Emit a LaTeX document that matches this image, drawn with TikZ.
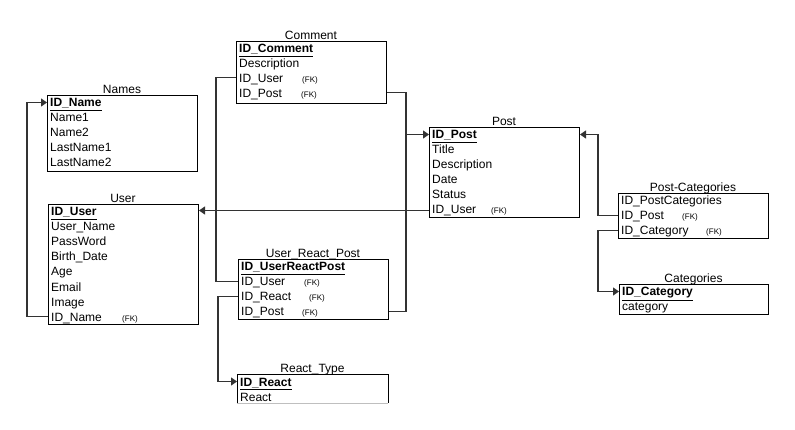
\documentclass[tikz,border=0pt]{standalone}
\usepackage{fontspec}
\setmainfont{Liberation Sans}
\usetikzlibrary{arrows.meta}
\begin{document}
\begin{tikzpicture}[x=1pt,y=-1pt,
  tbl/.style={draw=black, line width=1pt, minimum width=150pt, inner sep=0pt, anchor=north west},
  ttl/.style={font=\fontsize{12}{14}\selectfont, anchor=base, inner sep=0pt},
  fld/.style={font=\fontsize{12}{14}\selectfont, anchor=base west, inner sep=0pt},
  fk/.style={font=\fontsize{8}{9}\selectfont, anchor=base west, inner sep=0pt},
  link/.style={draw=black!80, line width=1.1pt},
  tip/.style={-{Triangle[length=6pt,width=8pt]}}
]
\useasboundingbox (0,0) rectangle (795,430);
\fill[white] (0,0) rectangle (795,430);

% ---------- Names ----------
\node[tbl, minimum height=76pt] (names) at (47,95) {};
\node[ttl] (names-t) at (122,93.5) {Names};
\node[fld] (names-0) at (50,107) {\underline{\textbf{ID\_Name}}};
\node[fld] (names-1) at (50,122) {Name1};
\node[fld] (names-2) at (50,137) {Name2};
\node[fld] (names-3) at (50,152) {LastName1};
\node[fld] (names-4) at (50,167) {LastName2};

% ---------- User ----------
\node[tbl, minimum height=120pt] (user) at (48,204) {};
\node[ttl] (user-t) at (123,202.5) {User};
\node[fld] (user-0) at (51,216) {\underline{\textbf{ID\_User}}};
\node[fld] (user-1) at (51,231) {User\_Name};
\node[fld] (user-2) at (51,246) {PassWord};
\node[fld] (user-3) at (51,261) {Birth\_Date};
\node[fld] (user-4) at (51,276) {Age};
\node[fld] (user-5) at (51,291) {Email};
\node[fld] (user-6) at (51,306) {Image};
\node[fld] (user-7) at (51,321) {ID\_Name};
\node[fk] (user-7fk) at (122,321) {(FK)};

% ---------- Comment ----------
\node[tbl, minimum height=62pt] (comment) at (236,41) {};
\node[ttl] (comment-t) at (311,39.5) {Comment};
\node[fld] (comment-0) at (239,53) {\underline{\textbf{ID\_Comment}}};
\node[fld] (comment-1) at (239,68) {Description};
\node[fld] (comment-2) at (239,83) {ID\_User};
\node[fk] (comment-2fk) at (302,83) {(FK)};
\node[fld] (comment-3) at (239,98) {ID\_Post};
\node[fk] (comment-3fk) at (301,98) {(FK)};

% ---------- Post ----------
\node[tbl, minimum height=90pt] (post) at (429,127) {};
\node[ttl] (post-t) at (504,125.5) {Post};
\node[fld] (post-0) at (432,139) {\underline{\textbf{ID\_Post}}};
\node[fld] (post-1) at (432,154) {Title};
\node[fld] (post-2) at (432,169) {Description};
\node[fld] (post-3) at (432,184) {Date};
\node[fld] (post-4) at (432,199) {Status};
\node[fld] (post-5) at (432,214) {ID\_User};
\node[fk] (post-5fk) at (491,214) {(FK)};

% ---------- Post-Categories ----------
\node[tbl, minimum height=45pt] (pc) at (618,193) {};
\node[ttl] (pc-t) at (693,191.5) {Post-Categories};
\node[fld] (pc-0) at (621,205) {ID\_PostCategories};
\node[fld] (pc-1) at (621,220) {ID\_Post};
\node[fk] (pc-1fk) at (682,220) {(FK)};
\node[fld] (pc-2) at (621,235) {ID\_Category};
\node[fk] (pc-2fk) at (706,235) {(FK)};

% ---------- Categories ----------
\node[tbl, minimum height=30pt, minimum width=149pt] (cat) at (619,284) {};
\node[ttl] (cat-t) at (693.5,282.5) {Categories};
\node[fld] (cat-0) at (622,296) {\underline{\textbf{ID\_Category}}};
\node[fld] (cat-1) at (622,311) {category};

% ---------- User_React_Post ----------
\node[tbl, minimum height=60pt] (urp) at (238,259) {};
\node[ttl] (urp-t) at (313,257.5) {User\_React\_Post};
\node[fld] (urp-0) at (241,271) {\underline{\textbf{ID\_UserReactPost}}};
\node[fld] (urp-1) at (241,286) {ID\_User};
\node[fk] (urp-1fk) at (304,286) {(FK)};
\node[fld] (urp-2) at (241,301) {ID\_React};
\node[fk] (urp-2fk) at (309,301) {(FK)};
\node[fld] (urp-3) at (241,316) {ID\_Post};
\node[fk] (urp-3fk) at (302,316) {(FK)};

% ---------- React_Type ----------
\node[minimum width=151pt, minimum height=29pt, inner sep=0pt, anchor=north west] (react) at (237,374) {};
\draw[line width=1pt] (react.south west) -- (react.north west) -- (react.north east) -- (react.south east);
\draw[line width=1pt, black!25] (react.south west) -- (react.south east);
\node[ttl] (react-t) at (312.5,372.5) {React\_Type};
\node[fld] (react-0) at (240,386) {\underline{\textbf{ID\_React}}};
\node[fld] (react-1) at (240,401) {React};

% ---------- Connectors ----------
\coordinate (jn) at (27,0);
\draw[link, tip] (user.west |- 0,316.5) -- (jn |- 0,316.5) -- (jn |- 0,102.5) -- (names.west |- 0,102.5);

\draw[link, tip] (post.west |- 0,210.5) -- (user.east |- 0,210.5);

\coordinate (jc) at (216,0);
\draw[link] (comment.west |- 0,77.5) -- (jc |- 0,77.5) -- (jc |- 0,281.5) -- (urp.west |- 0,281.5);

\coordinate (jp) at (406,0);
\draw[link] (comment.east |- 0,92.5) -- (jp |- 0,92.5) -- (jp |- 0,311.5) -- (urp.east |- 0,311.5);
\draw[link, tip] (jp |- 0,134.5) -- (post.west |- 0,134.5);

\coordinate (jr) at (218,0);
\draw[link, tip] (urp.west |- 0,296.5) -- (jr |- 0,296.5) -- (jr |- 0,381.5) -- (react.west |- 0,381.5);

\coordinate (jq) at (598,0);
\draw[link, tip] (pc.west |- 0,215.5) -- (jq |- 0,215.5) -- (jq |- 0,134.5) -- (post.east |- 0,134.5);
\draw[link, tip] (pc.west |- 0,230.5) -- (jq |- 0,230.5) -- (jq |- 0,291.5) -- (cat.west |- 0,291.5);
\end{tikzpicture}
\end{document}
